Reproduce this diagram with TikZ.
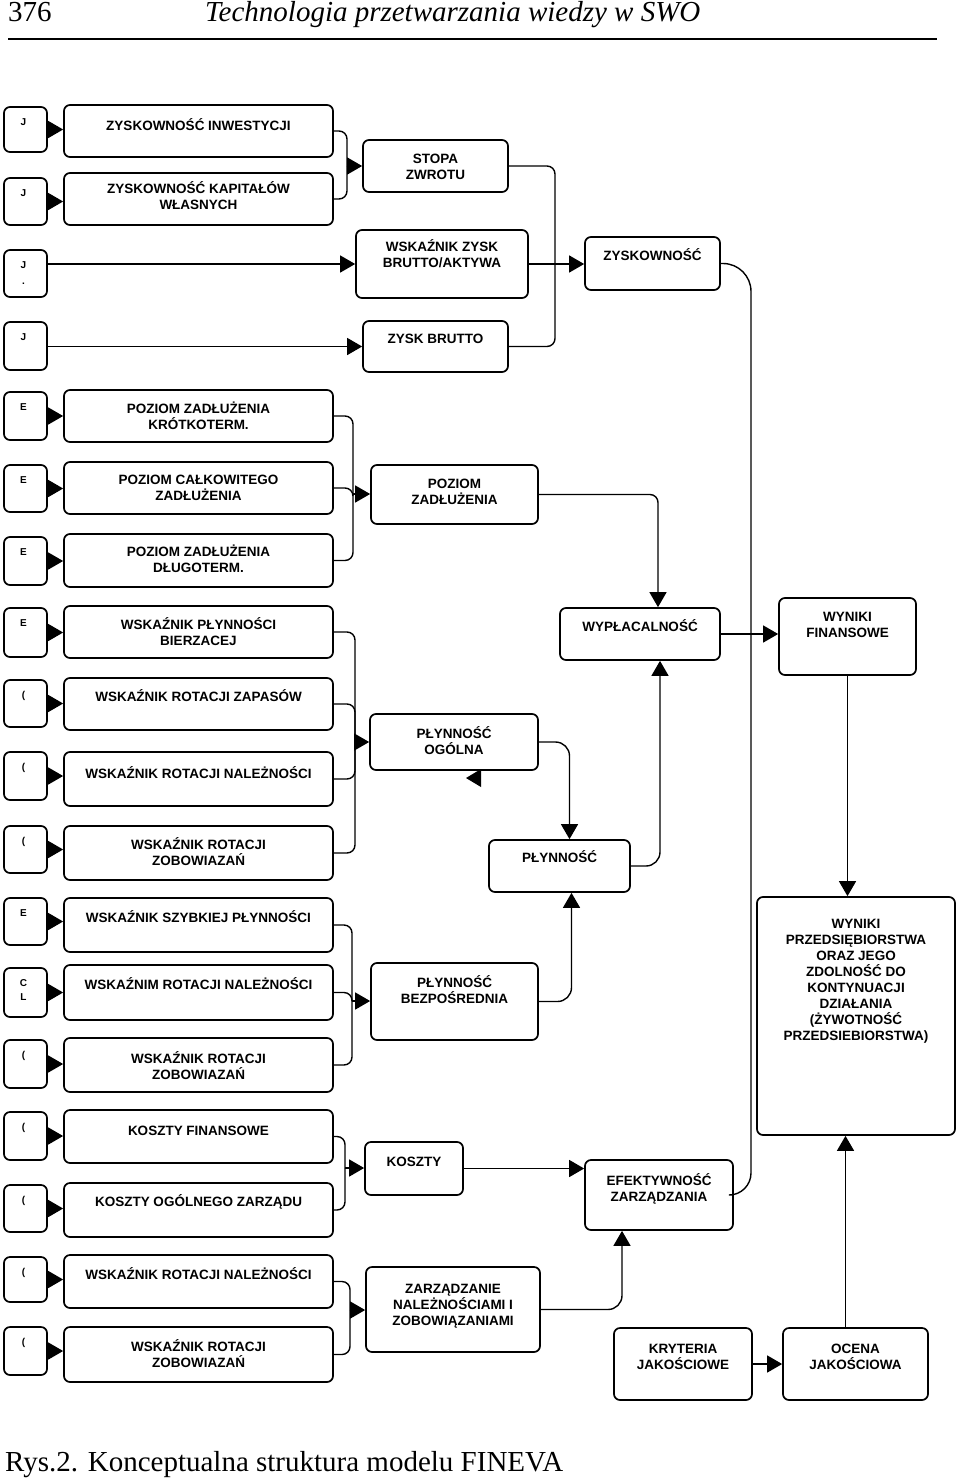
\documentclass[tikz,border=0pt]{standalone}
\usepackage{fontspec}
\setmainfont{Liberation Serif}
\newfontfamily\bxfont{Liberation Sans}
\usetikzlibrary{arrows.meta,calc}
\tikzset{
 bx/.style={draw, line width=1.7pt, rounded corners=6pt, inner sep=0pt},
 txt/.style={font=\bxfont\bfseries\fontsize{13.5}{16}\selectfont, align=center, inner sep=0pt, anchor=north},
 lt/.style={font=\bxfont\bfseries\fontsize{10}{12}\selectfont, align=center, inner sep=0pt, anchor=north},
 ln/.style={line width=1.4pt, rounded corners=8pt},
 arr/.style={line width=1.4pt, rounded corners=8pt, -{Triangle[length=15pt,width=17pt]}},
}
\newcommand{\mkbox}[7]{%
  \node[bx, minimum width={(#4-#2)*1pt}, minimum height={(#5-#3)*1pt}] (#1) at ({(#2+#4)/2},{(#3+#5)/2}) {};
  \node[txt] (#1t) at ([yshift={(3.3-#7)*1pt}]#1.north) {\rule{0pt}{13pt}#6};
}
\newcommand{\mksm}[6]{%
  \node[bx, minimum width={(#4-#2)*1pt}, minimum height={(#5-#3)*1pt}] (#1) at ({(#2+#4)/2},{(#3+#5)/2}) {};
  \node[lt] (#1t) at ([xshift=-2pt,yshift=-12pt]#1.north) {#6};
}
\begin{document}
\begin{tikzpicture}[x=1pt,y=-1pt]
\fill[white] (0,0) rectangle (960,1480);
\useasboundingbox (0,0) rectangle (960,1480);
% header
\node[anchor=base west, inner sep=0pt, font=\fontsize{29}{32}\selectfont] (pg) at (8,22) {376};
\node[anchor=base west, inner sep=0pt, font=\fontsize{29}{32}\selectfont\itshape] (title) at (205,22) {Technologia przetwarzania wiedzy w SWO};
\coordinate (rl) at (8,39); \coordinate (rr) at (937,39);
\draw[line width=1.6pt] (rl) -- (rr);
% caption
\node[anchor=base west, inner sep=0pt, font=\fontsize{29}{32}\selectfont] (cap) at (5,1471) {Rys.2. Konceptualna struktura modelu FINEVA};

% ---------- small boxes ----------
\mksm{s1}{4}{107}{47}{152}{J}
\mksm{s2}{4}{178}{47}{225}{J}
\mksm{s3}{4}{250}{47}{297}{J\\[4pt].}
\mksm{s4}{4}{322}{47}{370}{J}
\mksm{s5}{4}{392}{47}{440}{E}
\mksm{s6}{4}{465}{47}{512}{E}
\mksm{s7}{4}{537}{47}{585}{E}
\mksm{s8}{4}{608}{47}{657}{E}
\mksm{s9}{4}{680}{47}{727}{(}
\mksm{s10}{4}{752}{47}{800}{(}
\mksm{s11}{4}{826}{47}{873}{(}
\mksm{s12}{4}{898}{47}{945}{E}
\mksm{s13}{4}{968}{47}{1017}{C\\[2pt]L}
\mksm{s14}{4}{1040}{47}{1088}{(}
\mksm{s15}{4}{1112}{47}{1160}{(}
\mksm{s16}{4}{1185}{47}{1232}{(}
\mksm{s17}{4}{1257}{47}{1302}{(}
\mksm{s18}{4}{1327}{47}{1375}{(}

% ---------- left boxes ----------
\mkbox{r1}{64}{105}{333}{157}{ZYSKOWNOŚĆ INWESTYCJI}{16}
\mkbox{r2}{64}{173}{333}{225}{ZYSKOWNOŚĆ KAPITAŁÓW\\WŁASNYCH}{11}
\mkbox{r5}{64}{390}{333}{442}{POZIOM ZADŁUŻENIA\\KRÓTKOTERM.}{14}
\mkbox{r6}{64}{462}{333}{514}{POZIOM CAŁKOWITEGO\\ZADŁUŻENIA}{13}
\mkbox{r7}{64}{534}{333}{587}{POZIOM ZADŁUŻENIA\\DŁUGOTERM.}{13}
\mkbox{r8}{64}{606}{333}{658}{WSKAŹNIK PŁYNNOŚCI\\BIERZACEJ}{14}
\mkbox{r9}{64}{678}{333}{730}{WSKAŹNIK ROTACJI ZAPASÓW}{14}
\mkbox{r10}{64}{752}{333}{806}{WSKAŹNIK ROTACJI NALEŻNOŚCI}{17}
\mkbox{r11}{64}{826}{333}{880}{WSKAŹNIK ROTACJI\\ZOBOWIAZAŃ}{14}
\mkbox{r12}{64}{898}{333}{952}{WSKAŹNIK SZYBKIEJ PŁYNNOŚCI}{15}
\mkbox{r13}{64}{965}{333}{1020}{WSKAŹNIM ROTACJI NALEŻNOŚCI}{15}
\mkbox{r14}{64}{1038}{333}{1092}{WSKAŹNIK ROTACJI\\ZOBOWIAZAŃ}{16}
\mkbox{r15}{64}{1110}{333}{1163}{KOSZTY FINANSOWE}{16}
\mkbox{r16}{64}{1183}{333}{1237}{KOSZTY OGÓLNEGO ZARZĄDU}{14}
\mkbox{r17}{64}{1255}{333}{1308}{WSKAŹNIK ROTACJI NALEŻNOŚCI}{15}
\mkbox{r18}{64}{1327}{333}{1382}{WSKAŹNIK ROTACJI\\ZOBOWIAZAŃ}{15}

% ---------- middle boxes ----------
\mkbox{stopa}{363}{140}{508}{192}{STOPA\\ZWROTU}{14}
\mkbox{wzb}{356}{230}{528}{298}{WSKAŹNIK ZYSK\\BRUTTO/AKTYWA}{12}
\mkbox{zb}{363}{321}{508}{372}{ZYSK BRUTTO}{13}
\mkbox{zysk}{585}{237}{720}{290}{ZYSKOWNOŚĆ}{14}
\mkbox{pz}{371}{465}{538}{524}{POZIOM\\ZADŁUŻENIA}{14}
\mkbox{wypl}{560}{608}{720}{660}{WYPŁACALNOŚĆ}{14}
\mkbox{wfin}{779}{598}{916}{675}{WYNIKI\\FINANSOWE}{14}
\mkbox{pog}{370}{714}{538}{770}{PŁYNNOŚĆ\\OGÓLNA}{15}
\mkbox{pl}{489}{840}{630}{892}{PŁYNNOŚĆ}{13}
\mkbox{pb}{371}{963}{538}{1040}{PŁYNNOŚĆ\\BEZPOŚREDNIA}{15}
\mkbox{wp}{757}{897}{955}{1135}{WYNIKI\\PRZEDSIĘBIORSTWA\\ORAZ JEGO\\ZDOLNOŚĆ DO\\KONTYNUACJI\\DZIAŁANIA\\(ŻYWOTNOŚĆ\\PRZEDSIEBIORSTWA)}{22}
\mkbox{kosz}{365}{1142}{463}{1195}{KOSZTY}{15}
\mkbox{efz}{585}{1160}{733}{1230}{EFEKTYWNOŚĆ\\ZARZĄDZANIA}{16}
\mkbox{zarz}{366}{1267}{540}{1352}{ZARZĄDZANIE\\NALEŻNOŚCIAMI I\\ZOBOWIĄZANIAMI}{17}
\mkbox{kryt}{614}{1328}{752}{1400}{KRYTERIA\\JAKOŚCIOWE}{16}
\mkbox{ocena}{783}{1328}{928}{1400}{OCENA\\JAKOŚCIOWA}{16}

% ---------- small -> big arrows ----------
\foreach \i in {1,2,5,6,7,8,9,10,11,12,13,14,15,16,17,18}{
  \draw[arr] (s\i.east) -- (s\i.east -| r\i.west);
}
\draw[arr] (s3.east |- wzb.west) -- (wzb.west);
\draw[arr] (s4.east |- zb.west) -- (zb.west);

% ---------- buses ----------
\coordinate (b1) at (347,166);
\draw[ln] (r1.east) -| (b1);
\draw[ln] (r2.east) -| (b1);
\draw[arr] (b1) -- (b1 -| stopa.west);

\coordinate (b2) at (555,264);
\draw[ln] (stopa.east) -| (b2);
\draw[ln] (wzb.east) -- (b2);
\draw[ln] (zb.east) -| (b2);
\draw[arr] (b2) -- (b2 -| zysk.west);

\coordinate (b3) at (751,634);
\draw[ln, rounded corners=28pt] (zysk.east) -| (b3);
\draw[ln, rounded corners=22pt] (efz.east) -| (b3);
\draw[arr] (wypl.east) -- (wypl.east -| wfin.west);

\coordinate (b4) at (353,494);
\draw[ln] (r5.east) -| (b4);
\draw[ln] (r6.east) -| (b4);
\draw[ln] (r7.east) -| (b4);
\draw[arr] (b4) -- (b4 -| pz.west);
\draw[arr] (pz.east) -| ($(wypl.north)+(18,0)$);

\coordinate (b5) at (355,742);
\draw[ln] (r8.east) -| (b5);
\draw[ln] (r9.east) -| (b5);
\draw[ln] (r10.east) -| (b5);
\draw[ln] (r11.east) -| (b5);
\draw[arr] (b5) -- (b5 -| pog.west);
\draw[arr, rounded corners=14pt] (pog.east) -| ($(pl.north)+(10,0)$);
\draw[arr, rounded corners=14pt] (pl.east) -| ($(wypl.south)+(20,0)$);
\fill (466,778) -- (481,769) -- (481,787) -- cycle;

\coordinate (b6) at (352,1001);
\draw[ln] (r12.east) -| (b6);
\draw[ln] (r13.east) -| (b6);
\draw[ln] (r14.east) -| (b6);
\draw[arr] (b6) -- (b6 -| pb.west);
\draw[arr, rounded corners=14pt] (pb.east) -| ($(pl.south)+(12,0)$);

\draw[arr] (wfin.south) -- (wfin.south |- wp.north);

\coordinate (b7) at (345,1168);
\draw[ln] (r15.east) -| (b7);
\draw[ln] (r16.east) -| (b7);
\draw[arr] (b7) -- (b7 -| kosz.west);
\draw[arr] (kosz.east) -- (kosz.east -| efz.west);

\coordinate (b8) at (350,1310);
\draw[ln] (r17.east) -| (b8);
\draw[ln] (r18.east) -| (b8);
\draw[arr] (b8) -- (b8 -| zarz.west);
\draw[arr, rounded corners=14pt] (zarz.east) -| ($(efz.south)+(-37,0)$);

\draw[arr] (kryt.east) -- (kryt.east -| ocena.west);
\coordinate (oc) at ($(ocena.north)+(-10,0)$);
\draw[arr] (oc) -- (oc |- wp.south);
\end{tikzpicture}
\end{document}
